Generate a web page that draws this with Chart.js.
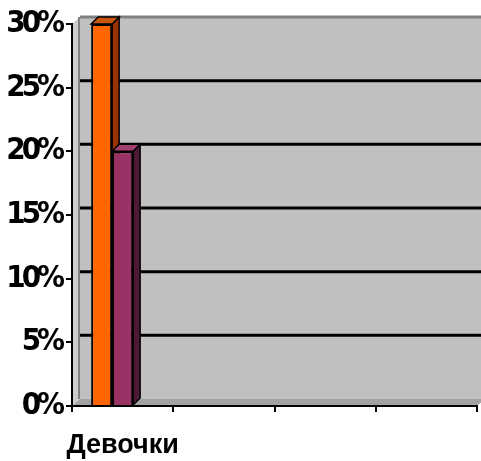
<!DOCTYPE html>
<html>
<head>
<meta charset="utf-8">
<script src="https://cdn.jsdelivr.net/npm/chart.js@4.4.1/dist/chart.umd.min.js"></script>
<style>
  html, body { margin: 0; padding: 0; background: #ffffff; }
  canvas { display: block; }
</style>
</head>
<body>
<canvas id="chart" width="481" height="461"></canvas>
<script>
// Categories along the x axis (only the first one carries values)
const categories = ['Девочки', '', '', ''];
// Series values, in percent
const seriesOrange = [30, null, null, null];
const seriesPurple = [20, null, null, null];
const seriesEmpty  = [null, null, null, null];
// Y axis tick values, in percent
const yTicks = [0, 5, 10, 15, 20, 25, 30];

// Depth offsets for the 3D look
const WALL_DX = 8, WALL_DY = -7;
const BAR_DX = 7, BAR_DY = -7;
// Tight spacing for the percentage labels
const Y_LETTER_SPACING = -4;

function poly(ctx, pts, fill) {
  ctx.beginPath();
  ctx.moveTo(pts[0][0], pts[0][1]);
  for (let i = 1; i < pts.length; i++) ctx.lineTo(pts[i][0], pts[i][1]);
  ctx.closePath();
  ctx.fillStyle = fill;
  ctx.fill();
  ctx.strokeStyle = '#000';
  ctx.lineWidth = 1.5;
  ctx.stroke();
}

function seg(ctx, x1, y1, x2, y2) {
  ctx.beginPath();
  ctx.moveTo(x1, y1);
  ctx.lineTo(x2, y2);
  ctx.stroke();
}

// Back wall, side wall, floor and the wall gridlines
const wallsPlugin = {
  id: 'walls',
  beforeDraw(chart) {
    const { ctx, chartArea: a, scales: { y } } = chart;
    const bl = a.left + WALL_DX, br = a.right + WALL_DX;
    const bt = a.top + WALL_DY, bb = a.bottom + WALL_DY;
    ctx.save();
    ctx.fillStyle = '#c0c0c0';
    ctx.fillRect(bl, bt, br - bl, bb - bt);

    ctx.beginPath();
    ctx.moveTo(a.left, a.top); ctx.lineTo(bl, bt); ctx.lineTo(bl, bb); ctx.lineTo(a.left, a.bottom);
    ctx.closePath();
    ctx.fillStyle = '#cccccc';
    ctx.fill();

    ctx.beginPath();
    ctx.moveTo(a.left, a.bottom); ctx.lineTo(bl, bb); ctx.lineTo(br, bb); ctx.lineTo(a.right, a.bottom);
    ctx.closePath();
    ctx.fillStyle = '#a2a2a2';
    ctx.fill();

    ctx.strokeStyle = '#000';
    ctx.lineWidth = 3;
    y.ticks.forEach(t => {
      if (t.value === y.min || t.value === y.max) return;
      const py = y.getPixelForValue(t.value) + WALL_DY;
      seg(ctx, bl, py, br, py);
    });

    ctx.strokeStyle = '#808080';
    ctx.lineWidth = 3;
    seg(ctx, bl, bt, br, bt);
    ctx.lineWidth = 2;
    seg(ctx, bl - 1, bt, bl - 1, bb);
    ctx.restore();

    // condensed look for the y tick labels
    const ys = chart.scales.y;
    if (!ys._tightLabels) {
      const drawLabels = ys.drawLabels.bind(ys);
      ys.drawLabels = function (area) {
        this.ctx.save();
        this.ctx.letterSpacing = Y_LETTER_SPACING + 'px';
        drawLabels(area);
        this.ctx.restore();
      };
      ys._tightLabels = true;
    }
  }
};

// Top and side faces of each bar, drawn before the front faces
const barDepthPlugin = {
  id: 'barDepth',
  beforeDatasetsDraw(chart) {
    const { ctx } = chart;
    ctx.save();
    chart.data.datasets.forEach((ds, i) => {
      const meta = chart.getDatasetMeta(i);
      meta.data.forEach((bar, j) => {
        if (ds.data[j] == null) return;
        const { x, y, base, width } = bar.getProps(['x', 'y', 'base', 'width'], true);
        const l = x - width / 2, r = x + width / 2;
        poly(ctx, [[r, y], [r + BAR_DX, y + BAR_DY], [r + BAR_DX, base + BAR_DY], [r, base]], ds.sideColor);
        poly(ctx, [[l, y], [r, y], [r + BAR_DX, y + BAR_DY], [l + BAR_DX, y + BAR_DY]], ds.topColor);
      });
    });
    ctx.restore();
  }
};

const tickFont = { family: "'DejaVu Sans Condensed', 'DejaVu Sans', sans-serif", weight: 'bold', size: 31 };
const labelFont = { family: "'Liberation Sans', 'DejaVu Sans', sans-serif", weight: 'bold', size: 27 };

new Chart(document.getElementById('chart'), {
  type: 'bar',
  data: {
    labels: categories,
    datasets: [
      { label: '', data: seriesOrange, backgroundColor: '#ff6600', topColor: '#c8560f', sideColor: '#993300',
        borderColor: '#000', borderWidth: 2 },
      { label: '', data: seriesPurple, backgroundColor: '#993366', topColor: '#a2406f', sideColor: '#4d1a33',
        borderColor: '#000', borderWidth: 2 },
      { label: '', data: seriesEmpty, backgroundColor: '#000', borderWidth: 0 }
    ]
  },
  options: {
    responsive: false,
    animation: false,
    devicePixelRatio: 1,
    categoryPercentage: 0.622,
    barPercentage: 1,
    layout: { padding: { top: 24, right: 4, left: 0, bottom: 0 } },
    plugins: { legend: { display: false }, tooltip: { enabled: false } },
    scales: {
      x: {
        grid: { display: true, drawOnChartArea: false, drawTicks: true, tickLength: 6, color: '#000', lineWidth: 2, offset: true },
        border: { display: true, color: '#000', width: 2 },
        ticks: { color: '#000', font: labelFont, padding: 17, maxRotation: 0, autoSkip: false },
        afterFit(scale) { scale.height = 55; }
      },
      y: {
        min: 0,
        max: 30,
        afterBuildTicks(scale) { scale.ticks = yTicks.map(v => ({ value: v })); },
        grid: { display: true, drawOnChartArea: false, drawTicks: true, tickLength: 6, color: '#000', lineWidth: 2 },
        border: { display: true, color: '#000', width: 2 },
        ticks: { color: '#000', font: tickFont, padding: 5, callback: v => v + '%' },
        afterFit(scale) { scale.width = 72; }
      }
    }
  },
  plugins: [wallsPlugin, barDepthPlugin]
});
</script>
</body>
</html>
